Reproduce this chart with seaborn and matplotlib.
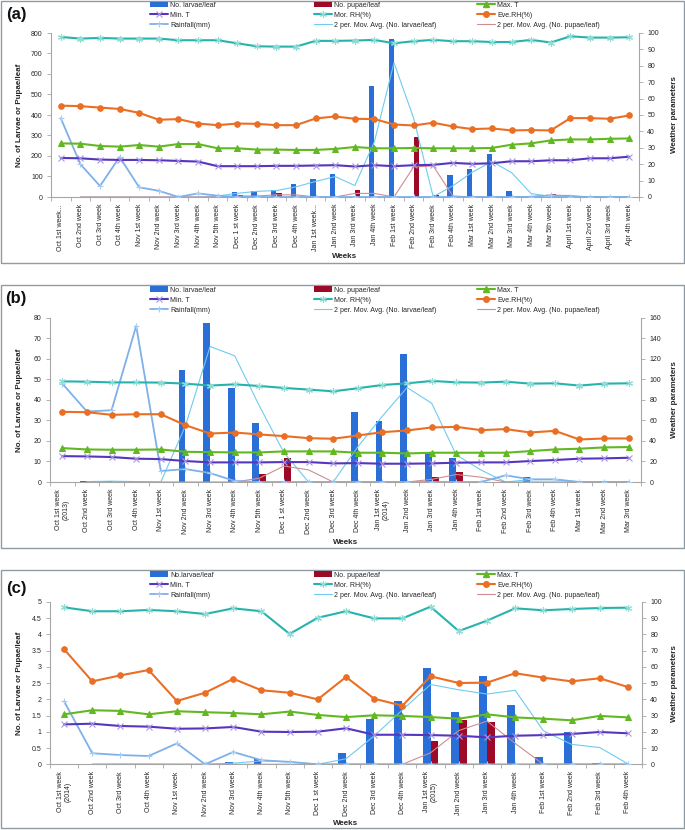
import numpy as np
import pandas as pd
import matplotlib
matplotlib.use("Agg")
import matplotlib.pyplot as plt
from matplotlib.patches import Rectangle, Patch
from matplotlib.lines import Line2D
from matplotlib.ticker import MultipleLocator, FuncFormatter
import seaborn as sns

# ---------------- DATA ----------------
a_weeks = ["Oct 1st week...", "Oct 2nd week", "Oct 3rd week", "Oct 4th week", "Nov 1st week",
           "Nov 2nd week", "Nov 3rd week", "Nov 4th week", "Nov 5th week", "Dec 1 st week",
           "Dec 2nd week", "Dec 3rd week", "Dec 4th week", "Jan 1st week...", "Jan 2nd week",
           "Jan 3rd week", "Jan 4th week", "Feb 1st week", "Feb 2nd week", "Feb 3rd week",
           "Feb 4th week", "Mar 1st week", "Mar 2nd week", "Mar 3rd week", "Mar 4th week",
           "Mar 5th week", "April 1st week", "April 2nd week", "April 3rd week", "Apr 4th week"]
a_larvae = [0, 0, 0, 0, 0, 0, 0, 0, 10, 26, 29, 34, 65, 87, 112, 0, 540, 770, 0, 2,
            107, 136, 210, 27, 6, 0, 0, 0, 0, 0]
a_pupae = [0, 0, 0, 0, 0, 0, 0, 0, 0, 10, 0, 21, 0, 0, 0, 35, 0, 0, 293, 10,
           0, 0, 0, 0, 5, 14, 0, 0, 0, 0]
a_maxT = [32.7, 32.5, 31.1, 30.7, 31.7, 30.7, 32.3, 32.3, 29.7, 29.7, 28.9, 28.9, 28.7, 28.7, 29.3,
          30.5, 29.7, 29.7, 29.9, 29.7, 29.7, 29.7, 29.9, 31.9, 32.7, 34.5, 35.1, 35.1, 35.5, 35.7]
a_minT = [23.8, 23.6, 22.8, 22.6, 22.6, 22.4, 22.0, 21.6, 18.8, 18.8, 18.8, 19.0, 19.0, 19.2, 19.4,
          18.6, 19.4, 18.8, 19.4, 19.6, 20.8, 20.2, 20.6, 21.8, 21.8, 22.4, 22.4, 23.6, 23.6, 24.6]
a_morRH = [97.6, 96.6, 97.0, 96.6, 96.6, 96.6, 95.6, 95.6, 95.6, 93.7, 91.9, 91.7, 91.7, 95.2, 95.2,
           95.4, 95.8, 93.7, 95.0, 95.8, 95.0, 95.0, 94.5, 94.5, 95.8, 94.2, 98.0, 97.2, 97.2, 97.4]
a_eveRH = [55.7, 55.4, 54.5, 53.7, 51.3, 47.1, 47.5, 44.8, 43.8, 44.8, 44.6, 43.8, 43.8, 47.9, 49.1,
           47.7, 47.5, 44.2, 43.6, 45.3, 43.0, 41.4, 41.8, 40.6, 40.8, 40.6, 48.1, 48.1, 47.7, 49.7]
a_rain = [48.0, 20.0, 6.7, 24.4, 5.9, 3.8, 0, 2.2, 0.8, 0, 0, 0, 0, 0, 0,
          0, 0, 0, 0, 0, 0, 0, 0, 0, 0, 1, 0, 0, 0, 0]

b_weeks = ["Oct 1st week\n(2013)", "Oct 2nd week", "Oct 3rd week", "Oct 4th week", "Nov 1st week",
           "Nov 2nd week", "Nov 3rd week", "Nov 4th week", "Nov 5th week", "Dec 1 st week",
           "Dec 2nd week", "Dec 3rd week", "Dec 4th week", "Jan 1st week\n(2014)", "Jan 2nd week",
           "Jan 3rd week", "Jan 4th week", "Feb 1st week", "Feb 2nd week", "Feb 3rd week",
           "Feb 4th week", "Mar 1st week", "Mar 2nd week", "Mar 3rd week"]
b_larvae = [0, 0.4, 0.4, 0, 0, 54.7, 77.3, 45.6, 28.6, 0, 0, 0, 34.3, 29.9, 62.1, 14.6,
            11.7, 0, 0, 2.3, 0, 0, 0, 0]
b_pupae = [0, 0, 0, 0, 0, 0, 0, 0, 3.7, 11.8, 0, 0, 0, 0, 0, 2.6,
           4.7, 0, 0, 0, 0, 0, 0, 0]
b_maxT = [33.0, 31.7, 31.4, 31.4, 31.7, 29.4, 29.1, 28.8, 28.8, 29.8, 29.8, 29.8, 28.5, 28.5, 27.8,
          28.5, 28.5, 28.5, 28.5, 30.1, 31.7, 32.4, 33.7, 34.0]
b_minT = [25.2, 24.9, 24.3, 22.7, 22.3, 20.4, 19.1, 19.1, 19.1, 19.4, 19.4, 18.1, 18.4, 17.8, 17.8,
          18.1, 18.8, 19.1, 19.1, 20.4, 21.4, 22.7, 23.0, 23.6]
b_morRH = [98.0, 97.7, 97.0, 97.0, 96.8, 95.8, 93.9, 95.1, 93.5, 91.6, 90.0, 88.3, 91.3, 94.5, 96.1,
           98.4, 97.1, 96.8, 97.7, 95.8, 96.1, 93.9, 95.8, 96.1]
b_eveRH = [68.3, 68.0, 65.4, 66.0, 66.0, 55.3, 47.2, 48.2, 46.3, 44.7, 42.7, 42.1, 45.3, 48.5, 50.2,
           53.1, 53.7, 50.5, 51.5, 48.2, 49.8, 41.4, 42.4, 42.4]
b_rain = [95.8, 68.6, 69.9, 152.0, 10.7, 12.6, 8.7, 1.0, 0, 0, 0, 0, 0, 0, 0,
          0, 0, 0, 6.5, 2.6, 2.6, 0, 0, 0]

c_weeks = ["Oct 1st week\n(2014)", "Oct 2nd week", "Oct 3rd week", "Oct 4th week", "Nov 1st week",
           "Nov 2nd week", "Nov 3rd week", "Nov 4th week", "Nov 5th week", "Dec 1 st week",
           "Dec 2nd week", "Dec 3rd week", "Dec 4th week", "Jan 1st week\n(2015)", "Jan 2nd week",
           "Jan 3rd week", "Jan 4th week", "Feb 1st week", "Feb 2nd week", "Feb 3rd week",
           "Feb 4th week"]
c_larvae = [0, 0.01, 0.01, 0.01, 0, 0.01, 0.06, 0.15, 0, 0, 0.34, 1.41, 1.94, 2.98, 1.61,
            2.72, 1.84, 0.23, 1.0, 0.03, 0]
c_pupae = [0, 0, 0, 0, 0, 0, 0, 0, 0, 0, 0, 0, 0, 0.71, 1.37,
           1.29, 0, 0, 0, 0, 0]
c_maxT = [30.8, 33.3, 32.9, 30.8, 32.7, 32.1, 31.6, 30.8, 32.5, 30.4, 29.1, 30.2, 29.8, 29.1, 28.1,
          30.8, 28.9, 28.1, 27.1, 29.8, 28.9]
c_minT = [24.6, 25.0, 23.6, 23.2, 21.9, 22.1, 23.0, 20.1, 19.9, 20.1, 22.2, 18.2, 18.2, 18.0, 17.6,
          16.6, 17.6, 18.0, 18.7, 19.9, 19.1]
c_morRH = [96.7, 94.3, 94.3, 95.1, 94.3, 92.6, 96.1, 94.3, 80.3, 90.3, 94.3, 89.9, 89.9, 97.1, 82.1,
           88.5, 96.1, 94.9, 95.7, 96.3, 96.5]
c_eveRH = [70.9, 51.1, 54.8, 58.1, 39.0, 44.1, 52.7, 45.6, 44.1, 40.0, 53.8, 40.4, 36.1, 54.2, 50.1,
           50.3, 56.1, 53.4, 51.1, 53.0, 47.6]
c_rain = [38.8, 6.8, 5.7, 5.1, 12.9, 0, 7.6, 2.5, 1.5, 0, 0, 0, 0, 0, 0,
          0, 0, 0, 0, 0, 0]

# ---------------- STYLE ----------------
sns.set_style("ticks")
FONT = ['Liberation Sans Narrow', 'Liberation Sans', 'DejaVu Sans']
plt.rcParams['font.family'] = FONT

C_LARV = '#2a6fd8'
C_PUP = '#9c0a28'
C_MAXT = '#62b822'
C_MINT = '#5536bf'
C_MINT_M = '#a996e2'
C_MOR = '#27b3ad'
C_MOR_M = '#8fdcd6'
C_EVE = '#ea6f25'
C_RAIN = '#7eb0ea'
C_RAIN_M = '#a8ccf4'
C_MAL = '#6fcbf0'
C_MAP = '#cf8d92'
C_AX = '#a6a6a6'
C_TXT = '#262626'

W, H = 685, 830
fig = plt.figure(figsize=(W / 100, H / 100), dpi=100)


def fx(px):
    return px / W


def fy(py):
    return 1 - py / H


def draw_panel(tag, weeks, larvae, pupae, maxT, minT, morRH, eveRH, rain,
               larv_label, axpx, box, leg_y, tag_y, weeks_y,
               lim_l, step_l, lim_r, step_r):
    n = len(weeks)
    pos = np.arange(n)
    l, r, t, b = axpx
    ax = fig.add_axes([fx(l), fy(b), (r - l) / W, (b - t) / H])

    bars = pd.DataFrame({
        'pos': np.concatenate([pos, pos]),
        'value': list(larvae) + list(pupae),
        'series': [larv_label] * n + ['No. pupae/leaf'] * n,
    })
    sns.barplot(data=bars, x='pos', y='value', hue='series',
                hue_order=[larv_label, 'No. pupae/leaf'],
                palette=[C_LARV, C_PUP], width=0.56, dodge=True, ax=ax,
                legend=False, linewidth=0, saturation=1, errorbar=None)

    ma_l = pd.Series(larvae, dtype=float).rolling(2).mean()
    ma_p = pd.Series(pupae, dtype=float).rolling(2).mean()
    sns.lineplot(x=pos, y=ma_l.values, ax=ax, color=C_MAL, lw=0.8)
    sns.lineplot(x=pos, y=ma_p.values, ax=ax, color=C_MAP, lw=0.8)

    ax2 = ax.twinx()
    sns.lineplot(x=pos, y=rain, ax=ax2, color=C_RAIN, lw=1.3, marker='+', ms=4,
                 mec=C_RAIN_M, mew=0.8)
    sns.lineplot(x=pos, y=minT, ax=ax2, color=C_MINT, lw=1.5, marker='x', ms=4,
                 mec=C_MINT_M, mew=0.8)
    sns.lineplot(x=pos, y=maxT, ax=ax2, color=C_MAXT, lw=1.5, marker='^', ms=4,
                 mec=C_MAXT, mfc=C_MAXT)
    sns.lineplot(x=pos, y=eveRH, ax=ax2, color=C_EVE, lw=1.5, marker='o', ms=4,
                 mec=C_EVE, mfc=C_EVE)
    sns.lineplot(x=pos, y=morRH, ax=ax2, color=C_MOR, lw=1.5, marker=(6, 2, 0), ms=5,
                 mec=C_MOR_M, mew=0.8)

    ax.set_xlim(-0.5, n - 0.5)
    ax.set_ylim(*lim_l)
    ax2.set_ylim(*lim_r)
    ax.yaxis.set_major_locator(MultipleLocator(step_l))
    ax2.yaxis.set_major_locator(MultipleLocator(step_r))
    ax.yaxis.set_major_formatter(FuncFormatter(lambda v, _: f"{v:g}"))
    ax2.yaxis.set_major_formatter(FuncFormatter(lambda v, _: f"{v:g}"))

    ax.set_xticks(pos)
    ax.set_xticklabels(weeks, rotation=90, fontsize=5, color=C_TXT)
    ax.set_xticks(np.arange(-0.5, n, 1.0), minor=True)
    ax.tick_params(axis='x', which='major', length=0, pad=5)
    ax.tick_params(axis='x', which='minor', length=3, width=0.6, color=C_AX)
    ax.tick_params(axis='y', length=3, width=0.6, color=C_AX, labelsize=5,
                   labelcolor=C_TXT, pad=3)
    ax2.tick_params(axis='y', length=3, width=0.6, color=C_AX, labelsize=5,
                    labelcolor=C_TXT, pad=3)

    for s in ['top', 'right']:
        ax.spines[s].set_visible(False)
    for s in ['top', 'left', 'bottom']:
        ax2.spines[s].set_visible(False)
    for sp in [ax.spines['left'], ax.spines['bottom'], ax2.spines['right']]:
        sp.set_color(C_AX)
        sp.set_linewidth(0.8)

    wpx, hpx = r - l, b - t
    ax.set_xlabel('Weeks', fontsize=5.8, fontweight='bold', color=C_TXT, va='center')
    ax.xaxis.set_label_coords(0.5, -(weeks_y - b) / hpx)
    ax.set_ylabel('No. of Larvae or Pupae/leaf', fontsize=5.8, fontweight='bold',
                  color=C_TXT, va='center')
    ax.yaxis.set_label_coords((20 - l) / wpx, 0.5)
    ax2.set_ylabel('Weather parameters', fontsize=5.8, fontweight='bold',
                   color=C_TXT, va='center')
    ax2.yaxis.set_label_coords((675 - l) / wpx, 0.5)

    # legend: three columns placed like the original
    h_larv = Patch(facecolor=C_LARV, edgecolor='none')
    h_pup = Patch(facecolor=C_PUP, edgecolor='none')
    h_maxT = Line2D([0], [0], color=C_MAXT, lw=1.5, marker='^', ms=4, mec=C_MAXT)
    h_minT = Line2D([0], [0], color=C_MINT, lw=1.5, marker='x', ms=4, mec=C_MINT_M, mew=0.8)
    h_mor = Line2D([0], [0], color=C_MOR, lw=1.5, marker=(6, 2, 0), ms=5, mec=C_MOR_M, mew=0.8)
    h_eve = Line2D([0], [0], color=C_EVE, lw=1.5, marker='o', ms=4, mec=C_EVE)
    h_rain = Line2D([0], [0], color=C_RAIN, lw=1.3, marker='+', ms=4, mec=C_RAIN_M, mew=0.8)
    h_mal = Line2D([0], [0], color=C_MAL, lw=0.8)
    h_map = Line2D([0], [0], color=C_MAP, lw=0.8)
    cols = [
        (150, [h_larv, h_minT, h_rain], [larv_label, 'Min. T', 'Rainfall(mm)']),
        (314, [h_pup, h_mor, h_mal], ['No. pupae/leaf', 'Mor. RH(%)',
                                       '2 per. Mov. Avg. (No. larvae/leaf)']),
        (477, [h_maxT, h_eve, h_map], ['Max. T', 'Eve.RH(%)',
                                       '2 per. Mov. Avg. (No. pupae/leaf)']),
    ]
    for cx, hs, ls in cols:
        fig.legend(handles=hs, labels=ls, loc='center left',
                   bbox_to_anchor=(fx(cx), fy(leg_y)), frameon=False, fontsize=5,
                   handlelength=2.6, handleheight=0.8, handletextpad=0.3,
                   labelspacing=0.42, borderpad=0, borderaxespad=0,
                   labelcolor=C_TXT)

    fig.text(fx(16), fy(tag_y), tag, fontsize=12, fontweight='bold', ha='center',
             va='center', color='#111111', family=['Liberation Sans', 'DejaVu Sans'])

    top, bot = box
    fig.add_artist(Rectangle((fx(1), fy(bot)), 683 / W, (bot - top) / H,
                             transform=fig.transFigure, fill=False,
                             edgecolor='#8f9ba3', linewidth=1.0))


draw_panel('(a)', a_weeks, a_larvae, a_pupae, a_maxT, a_minT, a_morRH, a_eveRH, a_rain,
           'No. larvae/leaf', (51, 639, 33, 197), (1, 263), 15.3, 15, 257,
           (0, 800), 100, (0, 100), 10)
draw_panel('(b)', b_weeks, b_larvae, b_pupae, b_maxT, b_minT, b_morRH, b_eveRH, b_rain,
           'No. larvae/leaf', (50, 641, 317.7, 482), (285, 548), 300, 299, 542,
           (0, 80), 10, (0, 160), 20)
draw_panel('(c)', c_weeks, c_larvae, c_pupae, c_maxT, c_minT, c_morRH, c_eveRH, c_rain,
           'No.larvae/leaf', (50, 642, 602, 764.3), (570, 828), 585, 588, 823,
           (0, 5), 0.5, (0, 100), 10)

fig.savefig('out.png', dpi=100, facecolor='white')
